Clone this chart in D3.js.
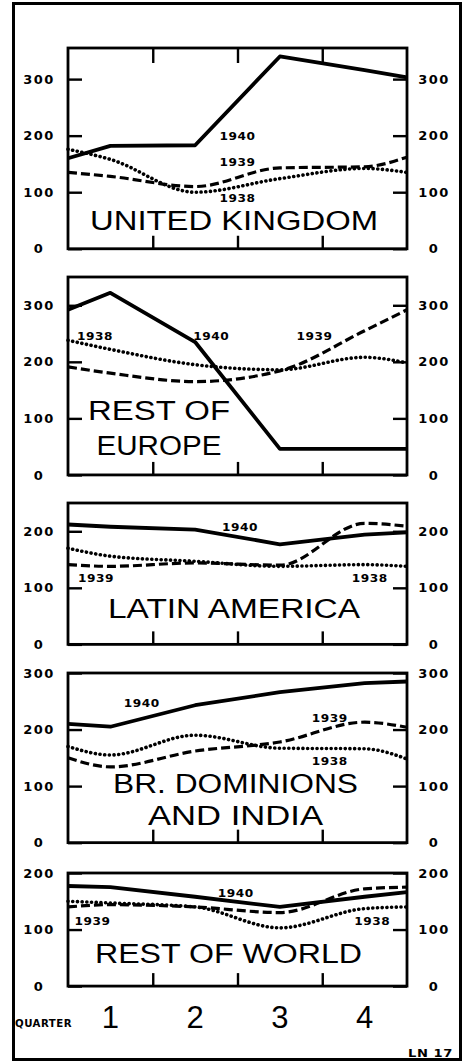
<!DOCTYPE html>
<html>
<head>
<meta charset="utf-8">
<script src="https://cdn.jsdelivr.net/npm/d3@7"></script>
<style>
  body { margin: 0; background: #fff; }
  svg { display: block; }
  .tick-label { font-family: "DejaVu Sans", sans-serif; font-weight: bold; font-size: 13px; letter-spacing: 1.5px; }
  .year { font-family: "DejaVu Sans", sans-serif; font-weight: bold; font-size: 11px; letter-spacing: 0.5px; }
  .title { font-family: "Liberation Sans", "DejaVu Sans", sans-serif; font-size: 27px; }
</style>
</head>
<body>
<div id="chart"></div>
<script>
// quarter positions: left edge, quarter centres 1..4, right edge
const quarters = [0.5, 1, 2, 3, 4, 4.5];
const years = ["1940", "1939", "1938"];

const regions = ["UNITED KINGDOM", "REST OF EUROPE", "LATIN AMERICA", "BR. DOMINIONS AND INDIA", "REST OF WORLD"];
const titleLines = [["UNITED KINGDOM"], ["REST OF", "EUROPE"], ["LATIN AMERICA"], ["BR. DOMINIONS", "AND INDIA"], ["REST OF WORLD"]];

// values per year
const unitedKingdom = {
    "1940": [160, 182, 183, 340, 316, 303],
    "1939": [135, 128, 110, 143, 145, 162],
    "1938": [176, 158, 100, 124, 142, 135]
};
const restOfEurope = {
    "1940": [292, 322, 235, 46, 46, 46],
    "1939": [191, 180, 165, 184, 255, 292],
    "1938": [238, 222, 195, 186, 208, 198]
};
const latinAmerica = {
    "1940": [212, 208, 203, 177, 194, 198],
    "1939": [141, 138, 144, 140, 214, 209],
    "1938": [170, 156, 147, 138, 141, 138]
};
const brDominions = {
    "1940": [210, 205, 243, 266, 282, 285],
    "1939": [150, 134, 162, 178, 213, 204],
    "1938": [170, 155, 190, 167, 166, 148]
};
const restOfWorld = {
    "1940": [177, 175, 158, 140, 158, 166],
    "1939": [140, 144, 140, 130, 172, 175],
    "1938": [150, 147, 140, 103, 137, 140]
};
const regionValues = [unitedKingdom, restOfEurope, latinAmerica, brDominions, restOfWorld];

const yMax = [355, 350, 250, 300, 200];
const yTicks = [[0, 100, 200, 300], [0, 100, 200, 300], [0, 100, 200], [0, 100, 200, 300], [0, 100, 200]];

// year label anchors in data units [quarter, value]
const yearLabelPos = [
    { "1940": [2.5, 192], "1939": [2.5, 147], "1938": [2.5, 83] },
    { "1940": [2.19, 238], "1939": [3.41, 238], "1938": [0.82, 238] },
    { "1940": [2.53, 201], "1939": [0.83, 110], "1938": [4.06, 110] },
    { "1940": [1.37, 240], "1939": [3.59, 213], "1938": [3.59, 138] },
    { "1940": [2.48, 157], "1939": [0.79, 108], "1938": [4.09, 108] }
];
const quarterLabels = ["1", "2", "3", "4"];

const W = 463, H = 1063;
const pxPerUnit = 0.5655;
const panelTop = [48, 277, 503, 673, 873];
const left = 68, right = 407;
// title layout: centre x and baselines measured up from the panel bottom
const titleLayout = [
    { cx: 234, base: [19], len: [288] },
    { cx: 159, base: [55, 20], len: [142, 125] },
    { cx: 234, base: [26], len: [252] },
    { cx: 235.5, base: [50, 18], len: [245, 175] },
    { cx: 228.5, base: [23], len: [267] }
];

const lineStyle = {
    "1940": { width: 3.8, dash: null, curve: d3.curveLinear },
    "1939": { width: 3.2, dash: "9 4", curve: d3.curveMonotoneX },
    "1938": { width: 3.6, dash: "0.1 4.6", curve: d3.curveMonotoneX }
};

const svg = d3.select("#chart")
    .append("svg")
    .attr("width", W)
    .attr("height", H);

svg.append("rect").attr("width", W).attr("height", H).attr("fill", "#fff");

// outer frame
svg.append("rect")
    .attr("x", 13.5).attr("y", 3.5)
    .attr("width", 447).attr("height", 1056)
    .attr("fill", "none").attr("stroke", "#000").attr("stroke-width", 3);

const x = d3.scaleLinear().domain([0.5, 4.5]).range([left, right]);

regions.forEach((name, i) => {
    const top = panelTop[i];
    const bottom = top + yMax[i] * pxPerUnit;
    const y = d3.scaleLinear().domain([0, yMax[i]]).range([bottom, top]);
    const g = svg.append("g").attr("class", "panel");

    // y axes both sides, ticks pointing inward
    const la = g.append("g")
        .attr("transform", `translate(${left},0)`)
        .call(d3.axisLeft(y).tickValues(yTicks[i]).tickSize(-14).tickFormat(d3.format("d")));
    la.selectAll("text").attr("class", "tick-label").attr("x", -29).attr("text-anchor", "middle");

    const ra = g.append("g")
        .attr("transform", `translate(${right},0)`)
        .call(d3.axisRight(y).tickValues(yTicks[i]).tickSize(-14).tickFormat(d3.format("d")));
    ra.selectAll("text").attr("class", "tick-label").attr("x", 27).attr("text-anchor", "middle");

    // quarter boundary ticks
    g.append("g")
        .attr("transform", `translate(0,${bottom})`)
        .call(d3.axisBottom(x).tickValues([1.5, 2.5, 3.5]).tickSize(-13).tickFormat(""));
    if (i === 0) {
        g.append("g")
            .attr("transform", `translate(0,${top})`)
            .call(d3.axisTop(x).tickValues([1.5, 2.5, 3.5]).tickSize(-15).tickFormat(""));
    }

    g.selectAll(".domain").remove();
    g.selectAll(".tick line").attr("stroke", "#000").attr("stroke-width", 2.4);
    g.selectAll(".tick text").attr("fill", "#000");

    // plot box
    g.append("rect")
        .attr("x", left).attr("y", top)
        .attr("width", right - left).attr("height", bottom - top)
        .attr("fill", "none").attr("stroke", "#000").attr("stroke-width", 2.8);

    // series
    const vals = regionValues[i];
    years.forEach(yr => {
        const st = lineStyle[yr];
        const pts = quarters.map((q, j) => ({ q: q, v: vals[yr][j] }));
        const line = d3.line().x(d => x(d.q)).y(d => y(d.v)).curve(st.curve);
        g.append("path")
            .datum(pts)
            .attr("d", line)
            .attr("fill", "none")
            .attr("stroke", "#000")
            .attr("stroke-width", st.width)
            .attr("stroke-linecap", yr === "1938" ? "round" : "butt")
            .attr("stroke-linejoin", "round")
            .attr("stroke-dasharray", st.dash);
    });

    // year labels
    years.forEach(yr => {
        const p = yearLabelPos[i][yr];
        g.append("text")
            .attr("class", "year")
            .attr("x", x(p[0])).attr("y", y(p[1]))
            .attr("text-anchor", "middle")
            .attr("textLength", 36)
            .attr("lengthAdjust", "spacingAndGlyphs")
            .text(yr);
    });

    // region title, one text element with a tspan per line
    const tl = titleLayout[i];
    const title = g.append("text")
        .attr("class", "title")
        .attr("text-anchor", "middle");
    titleLines[i].forEach((t, k) => {
        title.append("tspan")
            .attr("x", tl.cx)
            .attr("y", bottom - tl.base[k])
            .attr("textLength", tl.len[k])
            .attr("lengthAdjust", "spacingAndGlyphs")
            .text(t);
    });
});

// quarter axis labels
svg.append("text")
    .attr("class", "year")
    .attr("x", 15).attr("y", 1027)
    .attr("textLength", 57)
    .attr("lengthAdjust", "spacingAndGlyphs")
    .text("QUARTER");

svg.selectAll(".qlabel")
    .data(quarterLabels)
    .enter()
    .append("text")
    .attr("class", "qlabel")
    .attr("x", (d, j) => x(j + 1))
    .attr("y", 1028)
    .attr("text-anchor", "middle")
    .style("font-family", "\"Liberation Sans\", sans-serif")
    .style("font-size", "31px")
    .text(d => d);

svg.append("text")
    .attr("class", "year")
    .attr("x", 408).attr("y", 1057)
    .attr("textLength", 45)
    .attr("lengthAdjust", "spacingAndGlyphs")
    .text("LN 17");
</script>
</body>
</html>
